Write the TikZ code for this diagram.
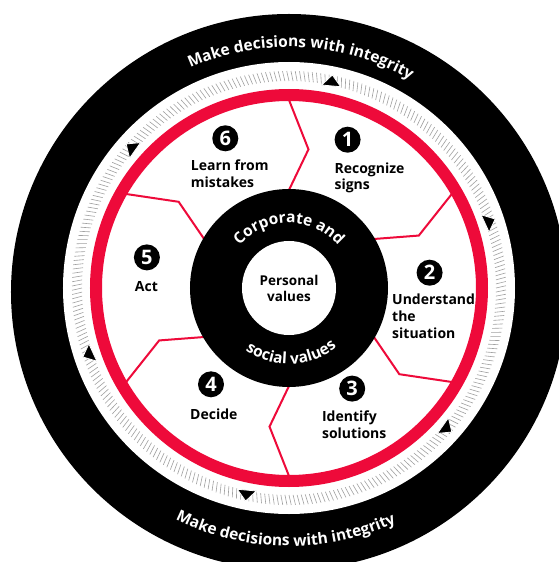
\documentclass[tikz,border=0pt]{standalone}
\usepackage{fontspec}
\setmainfont{Open Sans}
\usetikzlibrary{decorations.text}
\definecolor{ared}{RGB}{238,10,58}
\definecolor{tickgray}{RGB}{160,160,160}
\tikzset{
  numc/.style={circle, fill=black, text=white, minimum size=26pt, inner sep=0pt,
    font=\fontsize{20}{20}\selectfont\bfseries},
  lab/.style={anchor=north west, align=left, inner sep=0pt,
    font=\fontsize{14}{16.8}\selectfont\bfseries},
  divider/.style={ared, line width=2pt, line join=miter},
  tickmark/.style={tickgray, line width=0.6pt},
  tri/.style={fill=black, draw=white, line width=0.8pt, line join=round},
}
\begin{document}
\begin{tikzpicture}[x=1pt,y=1pt]
\useasboundingbox (-289,-274) rectangle (270,288);
\clip (-289,-274) rectangle (270,288);
\fill[white] (-289,-274) rectangle (270,288);
% outer black ring
\fill[black] (0,-4) circle[radius=278];
\fill[white] (0,0) circle[radius=226];
% ticks
\foreach \i in {0,...,319} {\draw[tickmark] ({\i*1.125}:207) -- ({\i*1.125+0.6}:217);}
% triangles
\foreach \k in {0,...,5} {
  \filldraw[tri] ({80.85-60*\k}:205.6) -- ({75.6-60*\k}:207.8) -- ({78.5-60*\k}:217.4) -- cycle;
}
% red ring
\draw[ared, line width=12pt] (0,0) circle[radius=193];
% dividers
\foreach \t in {90,30,-30,-90,-150,150} {\draw[divider] (\t:98) -- ({\t-8}:140) -- (\t:188);}
% inner disk
\fill[black] (0,0) circle[radius=99];
\fill[white] (0,0) circle[radius=47];
% curved texts
\path[decorate, decoration={text along path, text align=center, text color=white,
  text={|\fontsize{15.5}{15.5}\selectfont\bfseries|Make decisions with integrity}}]
  (177:241) arc[start angle=177, end angle=-3, radius=241];
\path[decorate, decoration={text along path, text align=center, text color=white,
  text={|\fontsize{15.5}{15.5}\selectfont\bfseries|Make decisions with integrity}}]
  (-180.8:258) arc[start angle=-180.8, end angle=-0.8, radius=258];
\path[decorate, decoration={text along path, text align=center, text color=white,
  text={|\fontsize{15.5}{15.5}\selectfont\bfseries|Corporate and}}]
  (180:65) arc[start angle=180, end angle=0, radius=65];
\path[decorate, decoration={text along path, text align=center, text color=white,
  text={|\fontsize{15.5}{15.5}\selectfont\bfseries|social values}}]
  (-178:76) arc[start angle=-178, end angle=2, radius=76];
% center text
\node[align=center, inner sep=0pt, anchor=north, font=\fontsize{13.5}{16}\selectfont\bfseries] (pv) at (0,12.8) {Personal\\values};
% numbers
\node[numc] (n1) at (58.6,148.3) {1};
\node[numc] (n2) at (140.6,15.3) {2};
\node[numc] (n3) at (63.2,-100.6) {3};
\node[numc] (n4) at (-78,-96.3) {4};
\node[numc] (n5) at (-142.1,30.6) {5};
\node[numc] (n6) at (-63.7,149.7) {6};
% labels
\node[lab] (l1) at (45.4,125.8) {Recognize\\signs};
\node[lab] (l2) at (103,-6.1) {Understand\\the\\situation};
\node[lab] (l3) at (32.9,-123) {Identify\\solutions};
\node[lab] (l4) at (-99,-120.2) {Decide};
\node[lab] (l5) at (-154.2,6.4) {Act};
\node[lab] (l6) at (-98.3,128.3) {Learn from\\mistakes};
\end{tikzpicture}
\end{document}
